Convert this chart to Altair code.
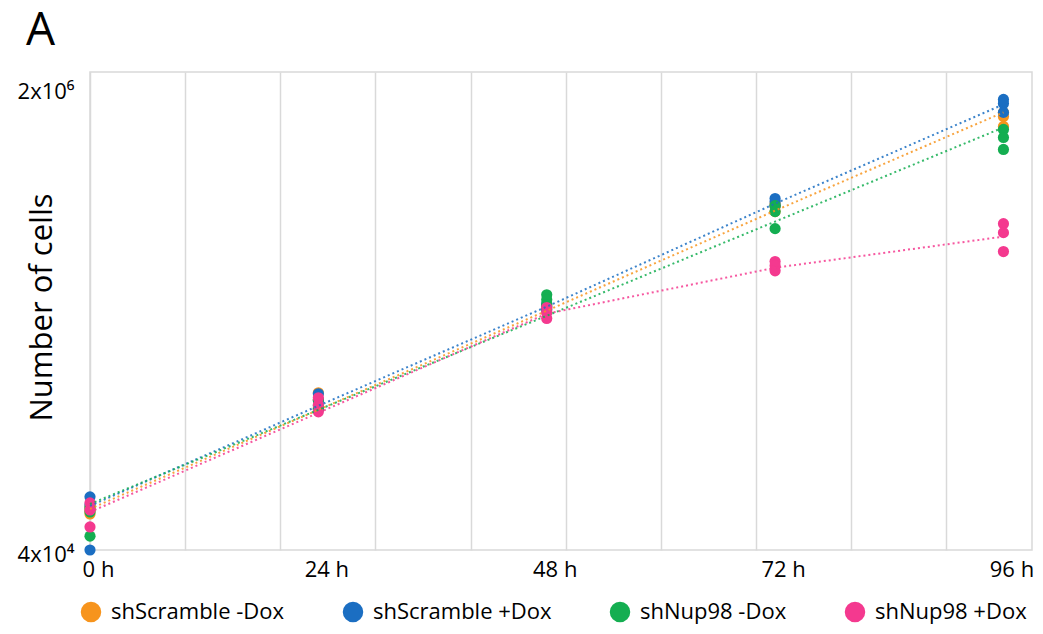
import altair as alt
import pandas as pd

groups = ["shScramble -Dox", "shScramble +Dox", "shNup98 -Dox", "shNup98 +Dox"]
colors = ["#F7941D", "#1B6EC2", "#14AE51", "#F4398F"]
times = [0, 24, 48, 72, 96]

# replicate cell counts per time point
scr_minus_pts = [[56900, 55100, 53700], [144800, 136700, 128000], [295000, 288000, 281000],
                 [681000, 665000, 638000], [1437000, 1390000, 1281000]]
scr_plus_pts = [[61800, 57800, 40000], [143600, 135600, 127000], [300000, 293000, 286000],
                [710000, 692000, 670000], [1598000, 1546000, 1437000]]
nup_minus_pts = [[56400, 54600, 44800], [136700, 130200, 126000], [323000, 310000, 298000],
                 [670000, 638000, 555000], [1250000, 1170000, 1061000]]
nup_plus_pts = [[58800, 55500, 48300], [139000, 131200, 123900], [291000, 279000, 266000],
                [424000, 410000, 393000], [578000, 537000, 460000]]

# dotted trend lines
scr_minus_line = [56000, 126000, 283500, 643000, 1437000]
scr_plus_line = [57400, 130200, 293000, 681000, 1534000]
nup_minus_line = [58300, 126000, 272000, 588000, 1270000]
nup_plus_line = [54600, 122900, 276700, 403000, 520000]

grid_hours = [0, 10, 20, 30, 40, 50, 60, 70, 80, 90]
label_hours = [0, 24, 48, 72, 96]

pt_rows = []
for g, pts in zip(groups, [scr_minus_pts, scr_plus_pts, nup_minus_pts, nup_plus_pts]):
    for t, vals in zip(times, pts):
        for v in vals:
            pt_rows.append({"group": g, "time": t, "cells": v})
pts_df = pd.DataFrame(pt_rows)

ln_rows = []
for g, vals in zip(groups, [scr_minus_line, scr_plus_line, nup_minus_line, nup_plus_line]):
    for t, v in zip(times, vals):
        ln_rows.append({"group": g, "time": t, "cells": v})
ln_df = pd.DataFrame(ln_rows)

FONT = "Open Sans"

xscale = alt.Scale(domain=[0, 99], nice=False, zero=False)
yscale = alt.Scale(type="log", domain=[40000, 2000000], nice=False)
cscale = alt.Scale(domain=groups, range=colors)

yaxis = alt.Axis(
    values=[40000, 2000000],
    labelExpr="datum.value < 100000 ? '4x10⁴' : '2x10⁶'",
    grid=False, ticks=False, domain=False,
    labelFontSize=22, labelFont=FONT, labelColor="black", labelPadding=16,
    labelFlush=False, labelBaseline="middle",
    labelOffset=alt.expr("datum.value > 100000 ? 19 : 4"),
    title="Number of cells", titleFontSize=31, titleFont=FONT, titleFontWeight="normal",
    titleColor="black", titleX=-48, titleY=235, titleAngle=-90,
    titleAlign="center", titleBaseline="middle",
)

points = alt.Chart(pts_df).mark_circle(size=125, opacity=1).encode(
    x=alt.X("time:Q", scale=xscale,
            axis=alt.Axis(values=label_hours, labelExpr="datum.value + ' h'", grid=False,
                          ticks=False, domain=False, labelFontSize=22, labelFont=FONT,
                          labelColor="black", labelPadding=9, labelOffset=8, title=None,
                          labelFlush=False)),
    y=alt.Y("cells:Q", scale=yscale, axis=yaxis),
    color=alt.Color("group:N", scale=cscale,
                    legend=alt.Legend(orient="none", legendX=-10, legendY=529,
                                      direction="horizontal", title=None,
                                      symbolType="circle", symbolSize=420,
                                      symbolStrokeWidth=0, labelFontSize=22,
                                      labelFont=FONT, labelColor="black",
                                      labelLimit=400, labelOffset=9, columnPadding=57)),
)

lines = alt.Chart(ln_df).mark_line(strokeDash=[2, 3], strokeWidth=2, opacity=0.85).encode(
    x=alt.X("time:Q", scale=xscale,
            axis=alt.Axis(orient="top", values=grid_hours, grid=True, labels=False,
                          ticks=False, domain=False, title=None,
                          gridColor="#d9d9d9", gridWidth=1.5)),
    y=alt.Y("cells:Q", scale=yscale),
    color=alt.Color("group:N", scale=cscale, legend=None),
    detail="group:N",
)

chart = alt.layer(points, lines).resolve_axis(x="independent").properties(
    width=942, height=478,
    autosize=alt.AutoSizeParams(type="none"),
    padding={"left": 82, "top": 64, "right": 2, "bottom": 76},
    title=alt.TitleParams("A", anchor="start", frame="group", fontSize=46, font=FONT,
                          fontWeight="normal", color="black", dx=-64, offset=17),
).configure_view(stroke="#d9d9d9", strokeWidth=1.5)

chart.save("out.html", embed_options={"renderer": "svg", "actions": False})
